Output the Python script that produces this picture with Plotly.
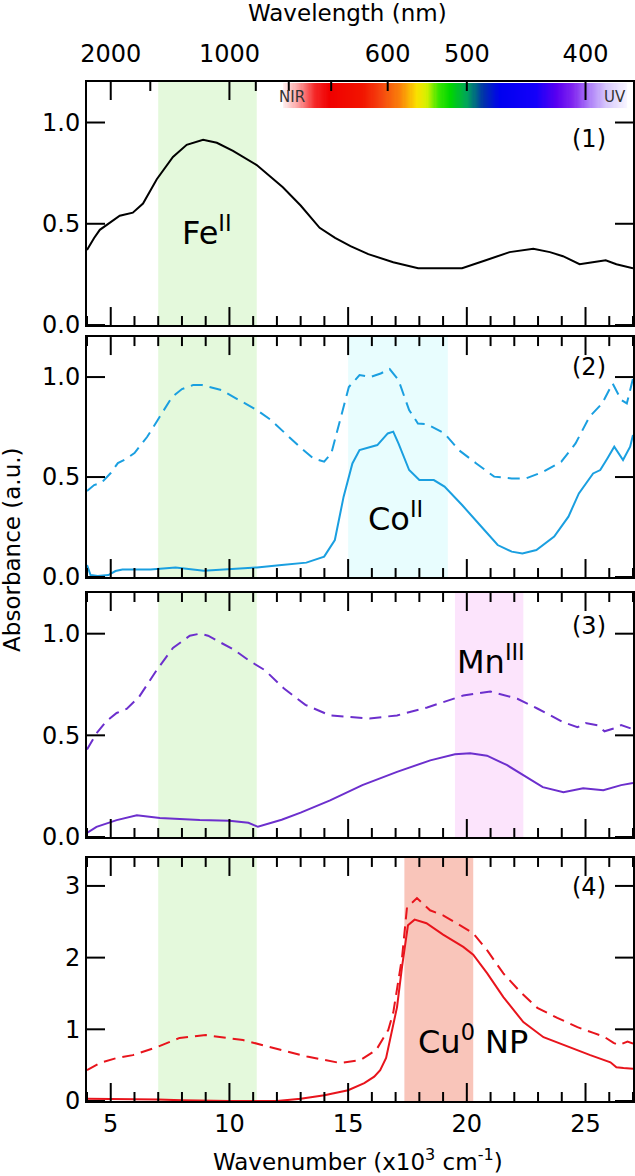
import numpy as np
import plotly.graph_objects as go

# ---------------- data (wavenumber in 10^3 cm^-1, absorbance a.u.) ----------------
WN1 = [4.0, 4.3, 4.54, 5.0, 5.38, 5.93, 6.36, 6.94, 7.62, 8.2, 8.89, 9.47, 10.15, 11.15, 12.25, 13.0,
       13.8, 14.45, 15.1, 15.85, 16.9, 17.95, 18.9, 19.8, 20.8, 21.8, 22.8, 23.5, 24.05, 24.75, 25.3,
       25.85, 26.3, 26.6, 27.0]
A1 = [0.37, 0.43, 0.47, 0.51, 0.54, 0.555, 0.60, 0.72, 0.83, 0.89, 0.915, 0.90, 0.86, 0.79, 0.68, 0.59,
      0.48, 0.43, 0.39, 0.35, 0.31, 0.28, 0.28, 0.28, 0.32, 0.36, 0.377, 0.36, 0.34, 0.30, 0.31,
      0.32, 0.30, 0.29, 0.28]

WN2D = [4.0, 4.3, 4.6, 5.0, 5.3, 5.64, 6.0, 6.53, 6.98, 7.58, 8.0, 8.47, 8.85, 9.67, 10.4, 11.16, 11.75,
        12.35, 12.95, 13.54, 13.99, 14.29, 14.59, 15.03, 15.48, 15.93, 16.37, 16.75, 17.12, 17.57, 17.94,
        18.31, 19.06, 19.66, 20.4, 21.15, 21.89, 22.49, 23.23, 23.98, 24.58, 25.17, 25.7, 26.14, 26.51,
        26.74, 27.0]
A2D = [0.43, 0.46, 0.47, 0.52, 0.57, 0.59, 0.62, 0.70, 0.785, 0.90, 0.94, 0.96, 0.96, 0.935, 0.885, 0.835,
       0.785, 0.718, 0.652, 0.593, 0.577, 0.618, 0.752, 0.95, 1.01, 1.0, 1.018, 1.04, 0.985, 0.835, 0.768,
       0.765, 0.718, 0.635, 0.568, 0.502, 0.493, 0.493, 0.527, 0.577, 0.668, 0.802, 0.868, 0.968, 0.885,
       0.868, 0.993]

WN2S = [4.0, 4.15, 4.45, 4.9, 5.2, 5.49, 6.68, 7.73, 8.92, 9.96, 11.16, 12.2, 13.24, 13.99, 14.44, 14.81,
        15.18, 15.48, 16.23, 16.67, 16.9, 17.12, 17.57, 18.0, 18.61, 19.06, 19.8, 20.55, 21.3, 21.89,
        22.34, 22.93, 23.68, 24.28, 24.72, 25.32, 25.62, 25.92, 26.21, 26.58, 26.88, 27.0]
A2S = [0.06, 0.01, 0.005, 0.01, 0.03, 0.038, 0.038, 0.048, 0.032, 0.038, 0.048, 0.06, 0.072, 0.102, 0.185,
       0.402, 0.568, 0.635, 0.66, 0.718, 0.727, 0.668, 0.535, 0.485, 0.485, 0.452, 0.36, 0.26, 0.16, 0.127,
       0.118, 0.135, 0.202, 0.302, 0.418, 0.518, 0.535, 0.593, 0.652, 0.585, 0.652, 0.71]

WN3D = [4.0, 4.4, 4.82, 5.25, 5.67, 6.2, 6.93, 7.62, 8.33, 8.75, 9.1, 9.6, 10.2, 10.8, 11.5, 12.3, 13.2,
        14.24, 15.9, 17.06, 18.33, 19.85, 20.99, 22.13, 22.97, 24.07, 24.66, 25.0, 25.5, 25.8, 26.2,
        26.5, 26.9]
A3D = [0.43, 0.51, 0.57, 0.61, 0.63, 0.69, 0.82, 0.93, 0.99, 1.0, 0.99, 0.96, 0.92, 0.87, 0.82, 0.73, 0.65,
       0.598, 0.583, 0.598, 0.637, 0.696, 0.716, 0.68, 0.632, 0.564, 0.54, 0.56, 0.55, 0.52, 0.534,
       0.55, 0.534]

WN3S = [4.0, 4.4, 5.25, 6.1, 7.07, 8.75, 10.0, 10.8, 11.2, 11.6, 12.2, 13.0, 14.24, 15.6, 17.06, 18.46,
        19.5, 20.14, 20.85, 21.7, 22.38, 23.2, 24.07, 24.9, 25.75, 26.5, 27.0]
A3S = [0.02, 0.05, 0.083, 0.107, 0.093, 0.083, 0.08, 0.07, 0.05, 0.065, 0.085, 0.12, 0.18, 0.255, 0.32,
       0.377, 0.407, 0.412, 0.40, 0.353, 0.304, 0.245, 0.22, 0.24, 0.23, 0.255, 0.265]

WN4D = [4.0, 4.54, 5.25, 5.93, 6.94, 7.9, 8.47, 9.0, 10.57, 11.92, 13.27, 14.66, 15.51, 16.18, 16.35,
        16.69, 16.9, 17.27, 17.48, 17.9, 18.45, 19.0, 19.72, 20.27, 20.86, 21.54, 22.26, 22.97, 23.81,
        24.66, 25.33, 25.77, 26.18, 26.4, 26.77, 27.0]
A4D = [0.43, 0.53, 0.60, 0.64, 0.75, 0.88, 0.90, 0.92, 0.85, 0.74, 0.62, 0.53, 0.57, 0.71, 0.81,
       0.99, 1.23, 2.0, 2.7, 2.83, 2.66, 2.59, 2.45, 2.34, 2.1, 1.78, 1.52, 1.3, 1.16,
       1.03, 0.95, 0.9, 0.81, 0.78, 0.83, 0.8]

WN4S = [4.0, 5.0, 6.0, 7.0, 8.0, 9.0, 10.0, 11.0, 12.0, 13.0, 14.0, 15.0, 15.68, 16.1, 16.35, 16.6, 16.77,
        17.06, 17.27, 17.52, 17.8, 18.3, 19.0, 19.85, 20.27, 20.86, 21.54, 22.38, 23.23, 24.37, 25.2,
        26.05, 26.3, 26.6, 27.0]
A4S = [0.03, 0.03, 0.03, 0.02, 0.01, 0.0, 0.0, 0.0, 0.0, 0.03, 0.08, 0.15, 0.25, 0.34, 0.43, 0.6, 0.85,
       1.31, 1.87, 2.45, 2.53, 2.48, 2.32, 2.15, 2.04, 1.78, 1.45, 1.1, 0.89, 0.74, 0.64,
       0.54, 0.47, 0.46, 0.45]

# axis ticks
WN_MAJOR = [5, 10, 15, 20, 25]
WN_MINOR = [4, 6, 7, 8, 9, 11, 12, 13, 14, 16, 17, 18, 19, 21, 22, 23, 24, 26, 27]
Y_TICKS_123 = [0, 0.5, 1.0]
Y_TEXT_123 = ["0.0", "0.5", "1.0"]
Y_TICKS_4 = [0, 1, 2, 3]
Y_TEXT_4 = ["0", "1", "2", "3"]

# wavelength ticks (nm) for the top axis
WL_LABELED = [2000, 1000, 600, 500, 400]
WL_LONG = [2000, 1000, 400]
WL_SHORT = [1500, 900, 800, 700, 600, 500]

# visible-spectrum colour bar stops (wavenumber, colour)
SPEC_WN = [12.26, 12.9, 13.6, 14.2, 15.6, 16.4, 17.2, 17.9, 18.3, 18.8, 19.3, 20.0, 20.7, 21.4, 22.9,
           23.8, 24.5, 25.2, 25.9, 26.4, 26.76]
SPEC_COL = ["rgb(255,240,240)", "rgb(252,160,160)", "rgb(245,40,40)", "rgb(240,0,0)", "rgb(242,20,0)",
            "rgb(245,70,15)", "rgb(250,130,10)", "rgb(250,225,0)", "rgb(215,240,0)", "rgb(60,230,0)",
            "rgb(0,215,0)", "rgb(0,165,90)", "rgb(0,50,170)", "rgb(0,0,240)", "rgb(20,0,250)",
            "rgb(90,0,240)", "rgb(130,40,240)", "rgb(175,130,248)", "rgb(215,200,252)", "rgb(235,228,254)",
            "rgb(248,246,255)"]

GREEN_BAND = (7.0, 11.15)
CYAN_BAND = (15.0, 19.2)
PINK_BAND = (19.5, 22.38)
SALMON_BAND = (17.37, 20.27)

C_CYAN = "#1a9fe0"
C_PURPLE = "#6c2fcd"
C_RED = "#e8141c"
FONT = "DejaVu Sans"

D1 = [0.7615, 1.0]
D2 = [0.5142, 0.7497]
D3 = [0.2591, 0.4985]
D4 = [0.0, 0.2385]

fig = go.Figure()

# spectrum colour bar in panel 1
lo, hi = SPEC_WN[0], SPEC_WN[-1]
edges = np.linspace(lo, hi, 301)
mids = (edges[:-1] + edges[1:]) / 2
cscale = [[(w - lo) / (hi - lo), c] for w, c in zip(SPEC_WN, SPEC_COL)]
fig.add_trace(go.Heatmap(x=edges, y=[1.07, 1.195], z=[mids], colorscale=cscale, zmin=lo, zmax=hi,
                         showscale=False, hoverinfo="skip", xaxis="x", yaxis="y"))

def add_line(x, y, color, dash, xa, ya):
    fig.add_trace(go.Scatter(x=x, y=y, mode="lines", line=dict(color=color, width=2, dash=dash),
                             xaxis=xa, yaxis=ya, hoverinfo="skip", showlegend=False))

DASH = "12px,7px"
add_line(WN1, A1, "black", "solid", "x", "y")
add_line(WN2D, A2D, C_CYAN, DASH, "x2", "y2")
add_line(WN2S, A2S, C_CYAN, "solid", "x2", "y2")
add_line(WN3D, A3D, C_PURPLE, DASH, "x3", "y3")
add_line(WN3S, A3S, C_PURPLE, "solid", "x3", "y3")
add_line(WN4D, A4D, C_RED, DASH, "x4", "y4")
add_line(WN4S, A4S, C_RED, "solid", "x4", "y4")

# carrier for the wavelength-label axis above panel 1
fig.add_trace(go.Scatter(x=[4, 27], y=[-1, -1], mode="lines", line=dict(width=0, color="rgba(0,0,0,0)"),
                         xaxis="x5", yaxis="y5", hoverinfo="skip", showlegend=False))

shapes = []
# shaded bands
bands = [(GREEN_BAND, "rgb(228,249,220)", "y"), (GREEN_BAND, "rgb(228,249,220)", "y2"),
         (GREEN_BAND, "rgb(228,249,220)", "y3"), (GREEN_BAND, "rgb(228,249,220)", "y4"),
         (CYAN_BAND, "rgb(232,253,254)", "y2"), (PINK_BAND, "rgb(252,228,252)", "y3"),
         (SALMON_BAND, "rgb(249,197,186)", "y4")]
xref_of = {"y": "x", "y2": "x2", "y3": "x3", "y4": "x4"}
for (x0, x1), col, ya in bands:
    shapes.append(dict(type="rect", xref=xref_of[ya], yref=ya + " domain", x0=x0, x1=x1, y0=0, y1=1,
                       fillcolor=col, line_width=0, layer="below"))

# inward-pointing ticks, placed through the axes' scales
TL = dict(color="black", width=2)
def xticks(xref, vals, dom_y, length, top):
    for v in vals:
        shapes.append(dict(type="line", xref=xref, x0=v, x1=v, yref="paper", ysizemode="pixel",
                           yanchor=dom_y, y0=0, y1=(-length if top else length), line=TL, layer="above"))

def yticks(yref, vals, length):
    for v in vals:
        shapes.append(dict(type="line", yref=yref, y0=v, y1=v, xref="paper", xsizemode="pixel",
                           xanchor=0, x0=0, x1=length, line=TL, layer="above"))
        shapes.append(dict(type="line", yref=yref, y0=v, y1=v, xref="paper", xsizemode="pixel",
                           xanchor=1, x0=0, x1=-length, line=TL, layer="above"))

panels = [("x", "y", D1, Y_TICKS_123), ("x2", "y2", D2, Y_TICKS_123),
          ("x3", "y3", D3, Y_TICKS_123), ("x4", "y4", D4, Y_TICKS_4)]
for i, (xa, ya, dom, yt) in enumerate(panels):
    xticks(xa, WN_MAJOR, dom[0], 18, False)
    xticks(xa, WN_MINOR, dom[0], 9, False)
    if i > 0:
        xticks(xa, WN_MAJOR, dom[1], 18, True)
        xticks(xa, WN_MINOR, dom[1], 9, True)
    yticks(ya, yt, 18)
# wavelength ticks on top of panel 1
xticks("x", [1e4 / w for w in WL_LONG], D1[1], 18, True)
xticks("x", [1e4 / w for w in WL_SHORT], D1[1], 9, True)

tickfont = dict(family=FONT, size=24, color="black")

def xax(anchor, labels):
    return dict(range=[4, 27], anchor=anchor, showgrid=False, zeroline=False, automargin=False,
                showline=True, linecolor="black", linewidth=2, mirror=True, ticks="",
                tickvals=WN_MAJOR, showticklabels=labels, tickfont=tickfont)

def yax(domain, rng, vals, text, xanchor):
    return dict(domain=domain, range=rng, anchor=xanchor, showgrid=False, zeroline=False, automargin=False,
                showline=True, linecolor="black", linewidth=2, mirror=True, ticks="",
                tickvals=vals, ticktext=text, tickfont=tickfont)

layout = dict(
    width=635, height=1176, plot_bgcolor="rgba(0,0,0,0)", paper_bgcolor="white",
    margin=dict(l=87, r=2, t=82, b=75), showlegend=False,
    xaxis=xax("y", False),
    xaxis2=xax("y2", False),
    xaxis3=xax("y3", False),
    xaxis4=xax("y4", True),
    yaxis=yax(D1, [0, 1.2], Y_TICKS_123, Y_TEXT_123, "x"),
    yaxis2=yax(D2, [0, 1.2], Y_TICKS_123, Y_TEXT_123, "x2"),
    yaxis3=yax(D3, [0, 1.2], Y_TICKS_123, Y_TEXT_123, "x3"),
    yaxis4=yax(D4, [0, 3.39], Y_TICKS_4, Y_TEXT_4, "x4"),
    yaxis5=dict(domain=D1, range=[0, 1], visible=False, anchor="x5", automargin=False),
    xaxis5=dict(range=[4, 27], anchor="y5", side="top", showgrid=False, zeroline=False, automargin=False,
                showline=False, ticks="", tickvals=[1e4 / w for w in WL_LABELED],
                ticktext=[str(w) for w in WL_LABELED], tickfont=tickfont, ticklabelstandoff=14),
    shapes=shapes,
)
fig.update_layout(**layout)

ann = []
def A(text, x, y, xref, yref, size, xanchor="center", color="black", textangle=0):
    ann.append(dict(text=text, x=x, y=y, xref=xref, yref=yref, showarrow=False, xanchor=xanchor,
                    yanchor="middle", textangle=textangle,
                    font=dict(family=FONT, size=size, color=color)))

A("Fe<sup>II</sup>", 9.06, 0.466, "x", "y", 32)
A("Co<sup>II</sup>", 17.0, 0.30, "x2", "y2", 32)
A("Mn<sup>III</sup>", 21.0, 0.87, "x3", "y3", 32)
A("Cu<sup>0</sup> NP", 20.25, 0.85, "x4", "y4", 32)
A("(1)", 25.93, 0.92, "x", "y", 24, "right")
A("(2)", 25.93, 1.05, "x2", "y2", 24, "right")
A("(3)", 25.93, 1.04, "x3", "y3", 24, "right")
A("(4)", 25.93, 2.98, "x4", "y4", 24, "right")
A("NIR", 12.63, 1.128, "x", "y", 15, color="#333333")
A("UV", 26.24, 1.128, "x", "y", 15, color="#333333")
A("Wavelength (nm)", 0.478, 1.0677, "paper", "paper", 23)
A("Wavenumber (x10<sup>3</sup> cm<sup>-1</sup>)", 0.496, -0.0579, "paper", "paper", 23)
A("Absorbance (a.u.)", -0.137, 0.541, "paper", "paper", 23, textangle=-90)
fig.update_layout(annotations=ann)

fig.write_html("out.html", config={"displayModeBar": False},
               post_script="document.body.style.margin='0px';")
